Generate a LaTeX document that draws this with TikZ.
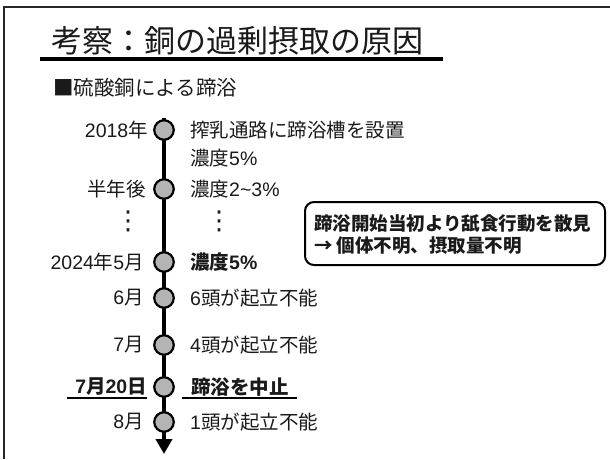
\documentclass[tikz,border=0pt]{standalone}
\usepackage{fontspec}
\setmainfont{Noto Sans CJK JP}
\newfontfamily\latinfam{Liberation Sans}
\newfontfamily\djvfam{DejaVu Sans}
\newcommand\ltn[1]{{\latinfam #1}}
\usetikzlibrary{arrows.meta}
\definecolor{txt}{HTML}{1A1A1A}
\definecolor{dotgray}{HTML}{B4B4B4}
\tikzset{
  lbl/.style={anchor=east,inner sep=0pt,text=txt,font=\fontsize{19.5}{21}\selectfont},
  rtx/.style={anchor=west,inner sep=0pt,text=txt,font=\fontsize{19.5}{21}\selectfont},
  vdots/.style={inner sep=0pt,text=txt,font=\fontsize{26}{28}\djvfam},
  evt/.style={circle,draw=black,fill=dotgray,line width=2.2pt,minimum size=19.5pt,inner sep=0pt},
}
\begin{document}
\begin{tikzpicture}[x=1pt,y=-1pt]
\useasboundingbox (0,0) rectangle (610,459);
% frame
\draw[line width=1.6pt,black!85] (610,7) -- (4,7) -- (4,459);
% title
\node[anchor=base west,inner sep=0pt,text=txt,font=\fontsize{31}{33}\selectfont] (title) at (51,52) {考察：銅の過剰摂取の原因};
\draw[line width=4pt] (40,59) -- (443,59);
\node[anchor=west,inner sep=0pt,text=txt,font=\fontsize{20.5}{22}\selectfont] (sub) at (53,88) {■硫酸銅による蹄浴};
% timeline
\coordinate (tltop) at (164,118);
\coordinate (tlend) at (164,454);
\draw[line width=4pt,-{Triangle[length=15pt,width=16pt]}] (tltop) -- (tlend);
\node[evt] (c1) at (164,130) {};
\node[evt] (c2) at (164,189) {};
\node[evt] (c3) at (164,262) {};
\node[evt] (c4) at (164,298) {};
\node[evt] (c5) at (164,345) {};
\node[evt] (c6) at (164,387) {};
\node[evt] (c7) at (164,422) {};
% left labels
\node[lbl] (l1) at (148,130) {\ltn{2018}年};
\node[lbl] (l2) at (146,189) {半年後};
\node[vdots] (ld) at (128,221) {⋮};
\node[lbl] (l3) at (144,262) {\ltn{2024}年\ltn{5}月};
\node[lbl] (l4) at (144,298) {\ltn{6}月};
\node[lbl] (l5) at (144,345) {\ltn{7}月};
\node[lbl,font=\fontsize{19.5}{21}\bfseries] (l6) at (147,387) {{\latinfam\bfseries 7}月{\latinfam\bfseries 20}日};
\node[lbl] (l7) at (144,422) {\ltn{8}月};
% right texts
\node[rtx] (r1) at (190,130) {搾乳通路に蹄浴槽を設置};
\node[rtx] (r1b) at (190,158) {濃度\ltn{5\%}};
\node[rtx] (r2) at (190,189) {濃度\ltn{2\textasciitilde3\%}};
\node[vdots] (rd) at (219,221) {⋮};
\node[rtx,font=\fontsize{19.5}{21}\bfseries] (r3) at (190,262) {濃度{\latinfam\bfseries 5\%}};
\node[rtx] (r4) at (190,298) {\ltn{6}頭が起立不能};
\node[rtx] (r5) at (190,345) {\ltn{4}頭が起立不能};
\node[rtx,font=\fontsize{19.5}{21}\bfseries] (r6) at (191,387) {蹄浴を中止};
\node[rtx] (r7) at (190,422) {\ltn{1}頭が起立不能};
% underlines
\draw[line width=1.8pt] (67,398) -- (147,398);
\draw[line width=1.8pt] (182,398) -- (297,398);
% note box
\node[draw=black,line width=2pt,rounded corners=9pt,minimum width=300pt,minimum height=63pt,inner sep=0pt] (box) at (455,233.5) {};
\node[anchor=west,inner sep=0pt,text=txt,font=\fontsize{18.5}{22}\bfseries,align=left] (note) at (314,234) {蹄浴開始当初より舐食行動を散見\\→ 個体不明、摂取量不明};
\end{tikzpicture}
\end{document}
